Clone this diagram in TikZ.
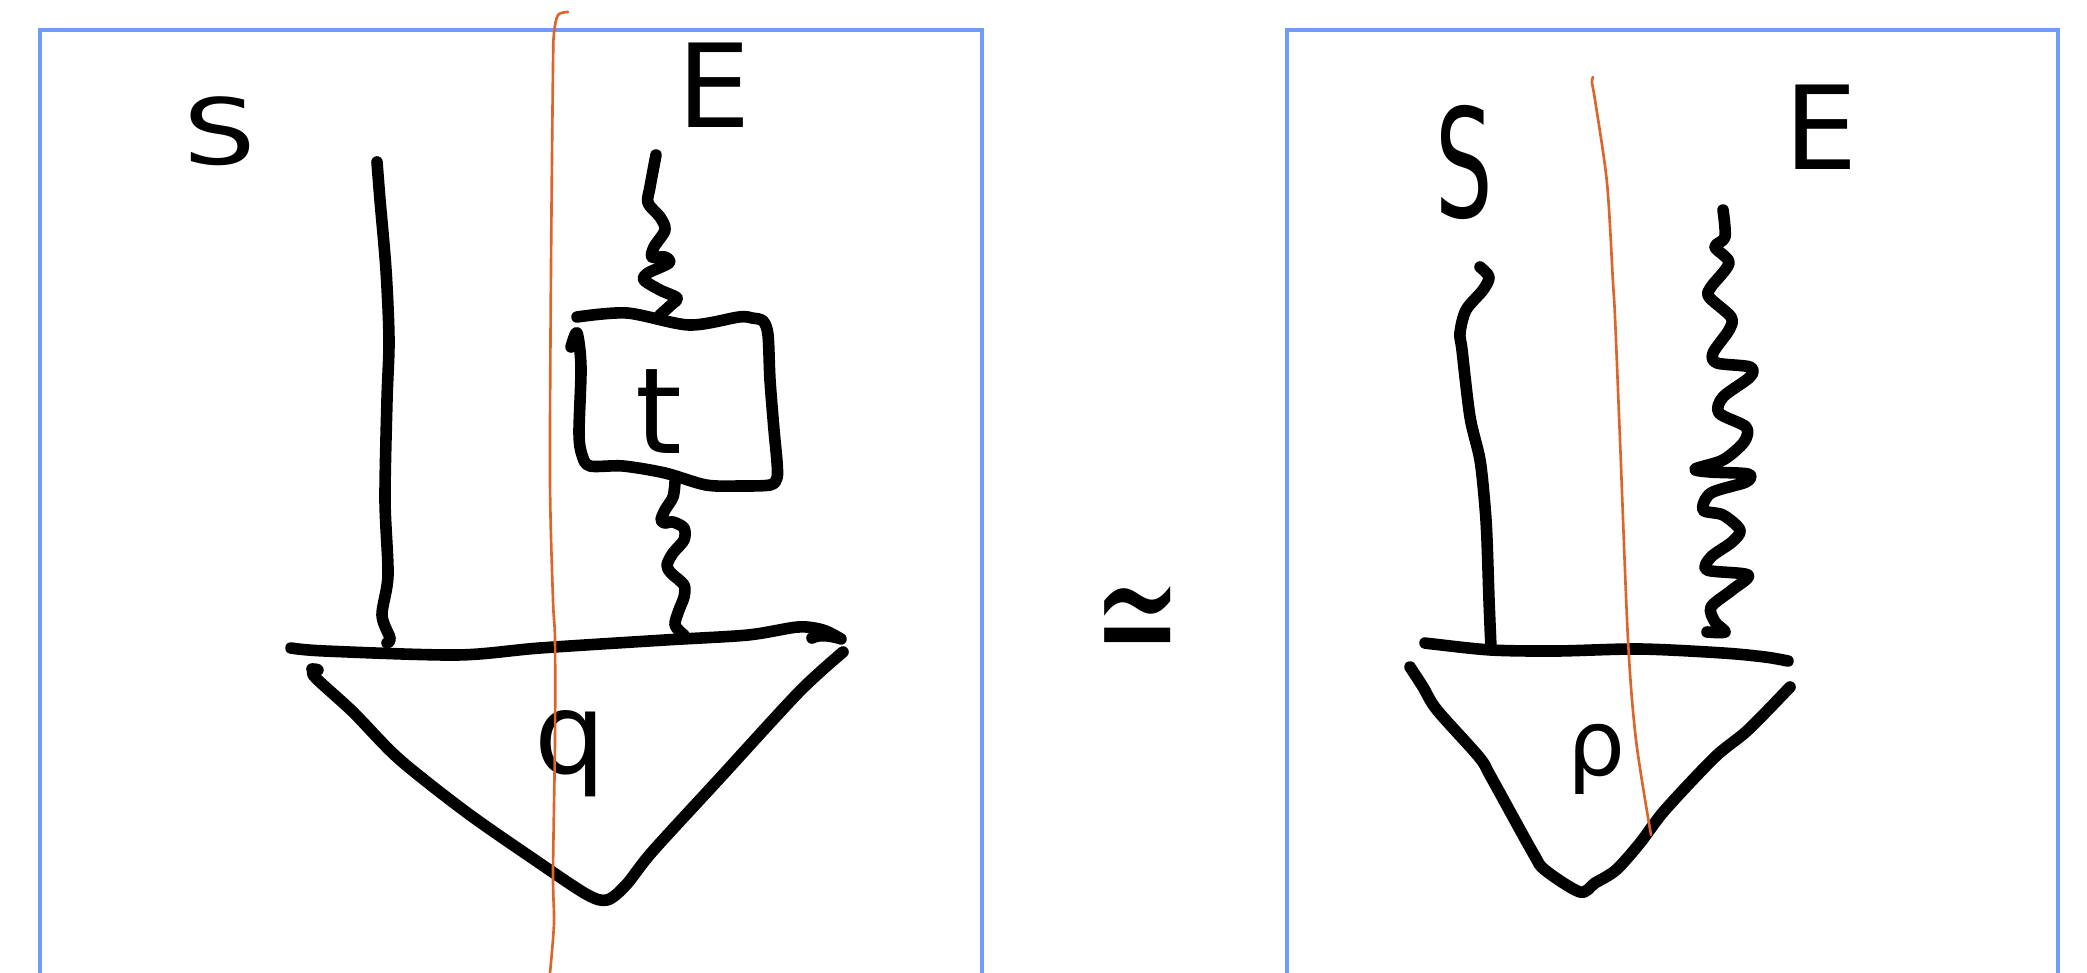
\documentclass[tikz,border=0pt]{standalone}
\usepackage{fontspec}
\setmainfont{DejaVu Sans}
\definecolor{frameblue}{RGB}{110,155,252}
\definecolor{cutorange}{RGB}{222,100,42}

\begin{document}
\begin{tikzpicture}[
    frame_line/.style={draw=frameblue,line width=0.9pt},
    cut_line/.style={draw=cutorange,line width=0.75pt,line cap=round,line join=round},
    wire/.style={black,line width=3.3pt,line cap=round,line join=round},
    hand_label/.style={text=black,inner sep=0pt,anchor=base}]
\useasboundingbox (0,0) rectangle (20.87,-9.73);
\draw[frame_line] (0.40,-9.73) -- (0.40,-0.30) -- (9.82,-0.30) -- (9.82,-9.73);
\draw[frame_line] (12.87,-9.73) -- (12.87,-0.30) -- (20.58,-0.30) -- (20.58,-9.73);
% labels
\node[hand_label,font=\fontsize{26}{28}\selectfont] (s_left) at (2.20,-1.65) {\scalebox{1.25}[1]{S}};
\node[hand_label,font=\fontsize{33}{36}\selectfont] (e_left) at (7.14,-1.28) {E};
\node[hand_label,font=\fontsize{34}{36}\selectfont] (t_label) at (6.59,-4.53) {t};
\node[hand_label,font=\fontsize{32}{34}\selectfont] (q_label) at (5.70,-7.73) {q};
\node[font=\fontsize{30}{32}\selectfont,inner sep=0pt] (sim_eq) at (11.38,-6.30) {\scalebox{1}[1.65]{≃}};
\node[hand_label,font=\fontsize{43}{46}\selectfont] (s_right) at (14.64,-2.18) {\scalebox{0.6}[1]{S}};
\node[hand_label,font=\fontsize{33}{36}\selectfont] (e_right) at (18.21,-1.70) {E};
\node[hand_label,font=\fontsize{26}{28}\selectfont] (rho_label) at (15.96,-7.75) {ρ};
% wire ends
\coordinate (s1_top) at (3.77,-1.62);
\coordinate (s1_bot) at (3.87,-6.43);
\coordinate (e1_top) at (6.56,-1.55);
\coordinate (box_top) at (6.60,-3.15);
\coordinate (box_bot) at (6.75,-4.82);
\coordinate (e1_bot) at (6.84,-6.35);
\coordinate (s2_top) at (14.80,-2.67);
\coordinate (s2_bot) at (14.91,-6.48);
\coordinate (e2_top) at (17.23,-2.10);
\coordinate (e2_bot) at (17.07,-6.32);
% left side
\draw[wire] plot[smooth,tension=0.5] coordinates {(s1_top) (3.80,-2.00) (3.86,-2.70) (3.89,-3.40) (3.87,-4.00) (3.85,-5.00) (3.88,-5.75) (3.82,-6.15) (3.90,-6.38) (s1_bot)};
\draw[wire] plot[smooth,tension=0.5] coordinates {(e1_top) (6.50,-1.87) (6.48,-2.03) (6.60,-2.17) (6.65,-2.30) (6.54,-2.47) (6.52,-2.57) (6.65,-2.57) (6.69,-2.63) (6.48,-2.73) (6.44,-2.80) (6.60,-2.90) (6.77,-2.98) (6.71,-3.05) (box_top)};
\draw[wire] plot[smooth,tension=0.5] coordinates {(5.71,-3.47) (5.77,-3.33) (5.81,-3.67) (5.79,-4.33) (5.82,-4.55) (5.90,-4.66) (6.23,-4.66) (6.65,-4.73) (7.06,-4.85) (7.40,-4.86) (7.70,-4.85) (7.77,-4.78) (7.77,-4.62) (7.74,-4.30) (7.70,-3.80) (7.68,-3.35) (7.63,-3.21) (7.52,-3.18) (7.39,-3.17) (6.89,-3.25) (6.27,-3.13) (5.77,-3.17)};
\draw[wire] plot[smooth,tension=0.5] coordinates {(box_bot) (6.73,-4.97) (6.65,-5.10) (6.61,-5.20) (6.65,-5.23) (6.73,-5.22) (6.84,-5.28) (6.84,-5.40) (6.73,-5.53) (6.67,-5.65) (6.71,-5.73) (6.84,-5.85) (6.84,-5.97) (6.79,-6.10) (6.75,-6.25) (e1_bot)};
\draw[wire] plot[smooth,tension=0.5] coordinates {(2.91,-6.48) (3.25,-6.51) (4.57,-6.55) (5.40,-6.48) (6.65,-6.40) (7.48,-6.35) (7.98,-6.27) (8.23,-6.30) (8.41,-6.39)};
\draw[wire] (8.12,-6.38) .. controls (8.20,-6.34) and (8.30,-6.36) .. (8.38,-6.38);
\draw[wire] plot[smooth,tension=0.5] coordinates {(3.12,-6.69) (3.18,-6.70) (3.14,-6.76) (3.53,-7.12) (3.99,-7.59) (4.66,-8.12) (5.32,-8.58) (5.86,-8.94) (6.07,-9.00) (6.26,-8.85) (6.52,-8.52) (7.19,-7.79) (7.99,-6.92) (8.43,-6.52)};
% right side
\draw[wire] plot[smooth,tension=0.5] coordinates {(s2_top) (14.89,-2.77) (14.83,-2.90) (14.66,-3.10) (14.60,-3.33) (14.62,-3.50) (14.70,-4.17) (14.80,-4.60) (14.85,-5.07) (14.87,-5.40) (14.89,-6.00) (s2_bot)};
\draw[wire] plot[smooth,tension=0.5] coordinates {(e2_top) (17.25,-2.37) (17.15,-2.47) (17.29,-2.63) (17.11,-2.87) (17.09,-2.97) (17.31,-3.17) (17.29,-3.30) (17.13,-3.53) (17.17,-3.63) (17.50,-3.67) (17.50,-3.77) (17.23,-3.97) (17.19,-4.13) (17.46,-4.27) (17.44,-4.42) (17.23,-4.60) (16.95,-4.69) (17.10,-4.72) (17.48,-4.74) (17.46,-4.82) (17.11,-4.93) (17.03,-5.10) (17.23,-5.15) (17.40,-5.30) (17.32,-5.42) (17.11,-5.57) (17.07,-5.70) (17.48,-5.75) (17.32,-5.90) (17.11,-6.07) (17.15,-6.22) (17.25,-6.32) (e2_bot)};
\draw[wire] plot[smooth,tension=0.5] coordinates {(14.25,-6.43) (14.33,-6.44) (14.91,-6.50) (15.57,-6.51) (16.40,-6.49) (17.23,-6.53) (17.65,-6.57) (17.88,-6.61)};
\draw[wire] plot[smooth,tension=0.5] coordinates {(14.10,-6.67) (14.23,-6.87) (14.37,-7.10) (14.79,-7.57) (14.91,-7.77) (15.33,-8.53) (15.45,-8.70) (15.80,-8.92) (15.95,-8.83) (16.16,-8.70) (16.40,-8.43) (16.65,-8.10) (17.15,-7.57) (17.48,-7.30) (17.90,-6.87)};
% cuts
\draw[cut_line] plot[smooth,tension=0.5] coordinates {(5.68,-0.12) (5.58,-0.15) (5.54,-0.33) (5.53,-0.67) (5.51,-2.67) (5.50,-4.80) (5.53,-6.00) (5.55,-6.40) (5.55,-7.40) (5.53,-8.73) (5.54,-9.23) (5.50,-9.73)};
\draw[cut_line] plot[smooth,tension=0.5] coordinates {(15.93,-0.77) (15.92,-0.83) (15.95,-1.00) (16.07,-1.83) (16.13,-2.83) (16.15,-3.17) (16.20,-4.40) (16.28,-6.40) (16.36,-7.40) (16.51,-8.35)};
\end{tikzpicture}
\end{document}
